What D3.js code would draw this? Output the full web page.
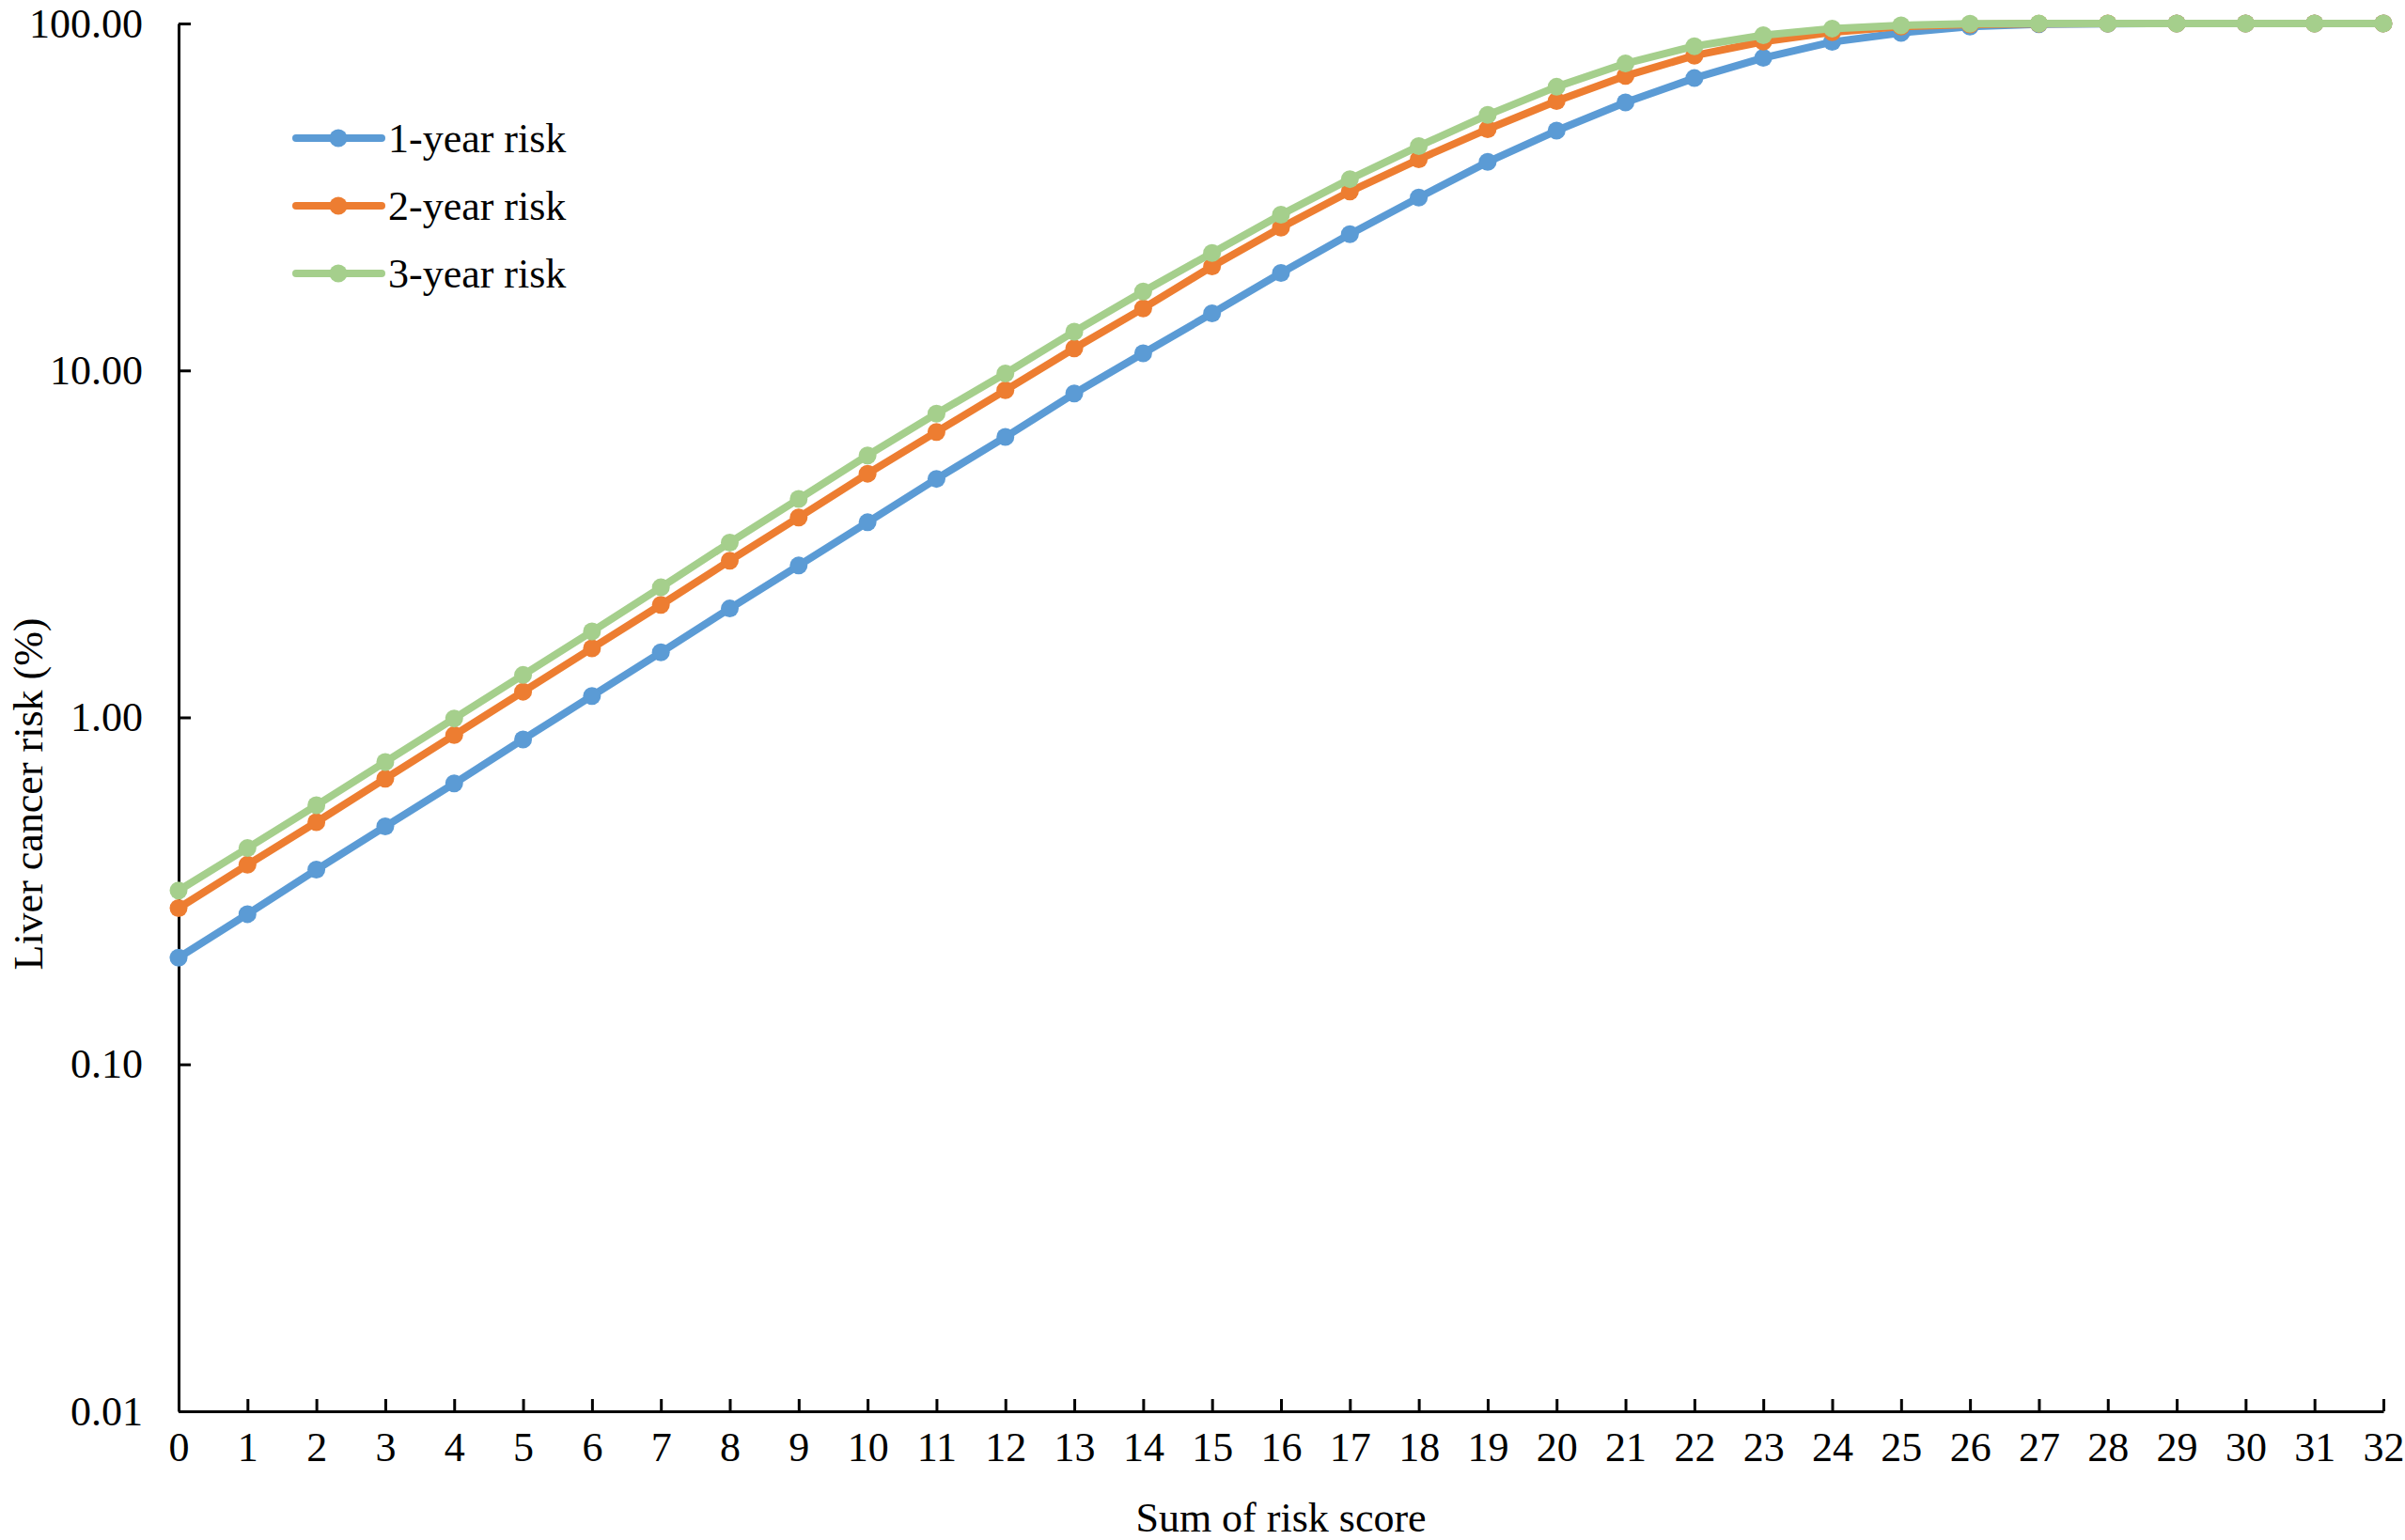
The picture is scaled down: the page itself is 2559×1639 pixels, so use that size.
<!DOCTYPE html>
<html>
<head>
<meta charset="utf-8">
<script src="https://d3js.org/d3.v7.min.js"></script>
<style>
    body { margin: 0; background: #ffffff; }
    text { font-family: "Liberation Serif", "Times New Roman", serif; fill: #000000; }
</style>
</head>
<body>
<div class="container"></div>
<script>
// sum of risk score (x-axis categories)
var scores = d3.range(0, 33);

// liver cancer risk in percent
var risk1Year = [0.203, 0.271, 0.364, 0.485, 0.645, 0.864, 1.153, 1.54, 2.06, 2.74,
                 3.65, 4.87, 6.43, 8.58, 11.2, 14.6, 19.1, 24.7, 31.5, 39.9,
                 49.1, 59.2, 69.6, 79.6, 88.5, 94.0, 98.0, 99.5, 99.9, 100,
                 100, 100, 100];
var risk2Year = [0.282, 0.376, 0.499, 0.666, 0.889, 1.186, 1.582, 2.11, 2.83, 3.77,
                 5.04, 6.65, 8.77, 11.58, 15.1, 19.95, 25.8, 32.8, 40.6, 49.6,
                 59.8, 70.6, 80.8, 88.7, 94.4, 98.0, 99.4, 99.9, 100, 100,
                 100, 100, 100];
var risk3Year = [0.317, 0.420, 0.558, 0.744, 0.993, 1.325, 1.769, 2.37, 3.19, 4.26,
                 5.69, 7.51, 9.80, 12.94, 16.89, 21.8, 28.1, 35.6, 44.3, 54.5,
                 65.7, 76.7, 86.0, 92.5, 96.7, 98.8, 99.8, 100, 100, 100,
                 100, 100, 100];

// series names and y-axis tick values
var seriesNames = ["1-year risk", "2-year risk", "3-year risk"];
var yTicks = [0.01, 0.1, 1, 10, 100];

// this function builds the chart
function lineChart() {
    const width = 2559;
    const height = 1639;
    const margin = {top: 25, bottom: 137, right: 23, left: 190};
    const colors = ["#5B9BD5", "#ED7D31", "#A5CF8C"];
    const fontSize = 44;

    // make svg
    const svg = d3.select(".container")
                  .append("svg")
                  .attr("width", width)
                  .attr("height", height);

    svg.append("rect")
       .attr("width", width)
       .attr("height", height)
       .attr("fill", "#ffffff");

    // scales
    var xScale = d3.scaleLinear()
                   .domain([0, 32])
                   .range([margin.left, width - margin.right]);

    var yScale = d3.scaleLog()
                   .domain([0.01, 100])
                   .range([height - margin.bottom, margin.top]);

    // axes with inward ticks
    const xAxis = d3.axisBottom(xScale)
                    .tickValues(scores)
                    .tickFormat(d3.format("d"))
                    .tickSizeInner(-13)
                    .tickSizeOuter(0)
                    .tickPadding(22);

    const yAxis = d3.axisLeft(yScale)
                    .tickValues(yTicks)
                    .tickFormat(d3.format(".2f"))
                    .tickSizeInner(-13)
                    .tickSizeOuter(0)
                    .tickPadding(38);

    var gx = svg.append("g")
                .attr("class", "xAxis")
                .attr("transform", "translate(0," + (height - margin.bottom) + ")")
                .call(xAxis);

    var gy = svg.append("g")
                .attr("class", "yAxis")
                .attr("transform", "translate(" + margin.left + ",0)")
                .call(yAxis);

    // style both axes
    [gx, gy].forEach(function(g) {
        g.select(".domain")
         .attr("stroke", "#000000")
         .attr("stroke-width", 3);
        g.selectAll(".tick line")
         .attr("stroke", "#000000")
         .attr("stroke-width", 3);
        g.selectAll("text")
         .style("font-family", "'Liberation Serif', 'Times New Roman', serif")
         .style("font-size", fontSize + "px")
         .attr("fill", "#000000");
    });

    // lines and markers for every series
    var allSeries = [risk1Year, risk2Year, risk3Year];

    var line = d3.line()
                 .x(function(d, i) { return xScale(scores[i]); })
                 .y(function(d) { return yScale(d); });

    allSeries.forEach(function(values, s) {
        var group = svg.append("g").attr("class", "series" + s);

        group.append("path")
             .datum(values)
             .attr("fill", "none")
             .attr("stroke", colors[s])
             .attr("stroke-width", 8)
             .attr("stroke-linejoin", "round")
             .attr("d", line);

        group.selectAll("circle")
             .data(values)
             .enter()
             .append("circle")
             .attr("cx", function(d, i) { return xScale(scores[i]); })
             .attr("cy", function(d) { return yScale(d); })
             .attr("r", 9.5)
             .attr("fill", colors[s]);
    });

    // legend
    var legend = svg.append("g")
                    .attr("class", "legend")
                    .attr("transform", "translate(315,147)");

    seriesNames.forEach(function(name, i) {
        var row = legend.append("g")
                        .attr("transform", "translate(0," + (i * 72) + ")");
        row.append("line")
           .attr("x1", 0)
           .attr("x2", 91)
           .attr("stroke", colors[i])
           .attr("stroke-width", 8)
           .attr("stroke-linecap", "round");
        row.append("circle")
           .attr("cx", 45)
           .attr("r", 9.5)
           .attr("fill", colors[i]);
        row.append("text")
           .attr("x", 98)
           .attr("dy", "0.34em")
           .style("font-size", fontSize + "px")
           .text(name);
    });

    // axis titles
    svg.append("text")
       .attr("x", (margin.left + width - margin.right) / 2)
       .attr("y", 1630)
       .attr("text-anchor", "middle")
       .style("font-size", fontSize + "px")
       .text("Sum of risk score");

    svg.append("text")
       .attr("transform", "translate(45,845) rotate(-90)")
       .attr("text-anchor", "middle")
       .style("font-size", fontSize + "px")
       .text("Liver cancer risk (%)");
}

lineChart();
</script>
</body>
</html>
